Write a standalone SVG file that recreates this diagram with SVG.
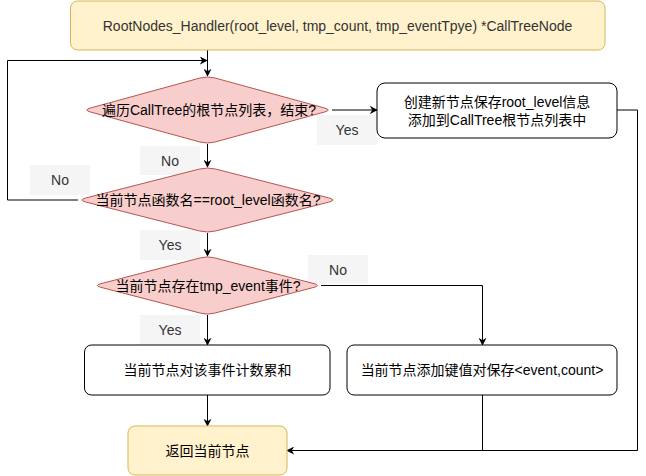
<svg xmlns="http://www.w3.org/2000/svg" width="646" height="476" viewBox="0 0 646 476">
<style>
text{font-family:"Liberation Sans","Noto Sans CJK SC",Arial,sans-serif;font-size:14px;text-anchor:middle;dominant-baseline:central;fill:#000}
.term{fill:#fff2cc;stroke:#d6b656;stroke-width:1}
.proc{fill:#ffffff;stroke:#000000;stroke-width:1}
.dec{fill:#f8cecc;stroke:#b85450;stroke-width:1}
.lbl rect{fill:#f5f5f5;stroke:none}
.lbl text{fill:#333333}
.edge{fill:none;stroke:#000000;stroke-width:1}
.ttl{fill:#333333}
</style>
<defs>
<marker id="arr" viewBox="0 0 10 10" refX="9" refY="5" markerWidth="8" markerHeight="8" markerUnits="userSpaceOnUse" orient="auto">
<path d="M0,0 L10,5 L0,10 L3,5 Z" fill="#000000" stroke="none"/>
</marker>
</defs>
<g id="connectors">
<path class="edge" d="M207.5,50 L207.5,76" marker-end="url(#arr)"/>
<path class="edge" d="M78,200 L7.5,200 L7.5,60.5 L207,60.5" marker-end="url(#arr)"/>
<path class="edge" d="M332,110 L377,110" marker-end="url(#arr)"/>
<path class="edge" d="M617,110 L637.5,110 L637.5,450.5 L287,450.5" marker-end="url(#arr)"/>
<path class="edge" d="M207.5,144 L207.5,167" marker-end="url(#arr)"/>
<path class="edge" d="M207.5,233 L207.5,256" marker-end="url(#arr)"/>
<path class="edge" d="M321,285.5 L482.5,285.5 L482.5,345" marker-end="url(#arr)"/>
<path class="edge" d="M207.5,315 L207.5,345" marker-end="url(#arr)"/>
<path class="edge" d="M207.5,395 L207.5,426" marker-end="url(#arr)"/>
<path class="edge" d="M482.5,395 L482.5,450.5"/>
</g>
<g id="labels" class="lbl">
<g id="lbl-yes1"><rect x="317" y="115" width="60" height="30"/><text x="347" y="130">Yes</text></g>
<g id="lbl-no1"><rect x="140" y="146" width="60" height="29"/><text x="170" y="160.5">No</text></g>
<g id="lbl-no2"><rect x="30" y="165" width="60" height="30"/><text x="60" y="180">No</text></g>
<g id="lbl-yes2"><rect x="140" y="230" width="60" height="30"/><text x="170" y="245">Yes</text></g>
<g id="lbl-no3"><rect x="308" y="255" width="60" height="29"/><text x="338" y="270">No</text></g>
<g id="lbl-yes3"><rect x="140" y="315" width="60" height="30"/><text x="170" y="330">Yes</text></g>
</g>
<g id="start">
<rect class="term" x="70.5" y="1" width="534.5" height="49" rx="7"/>
<text class="ttl" x="337.5" y="25.5">RootNodes_Handler(root_level, tmp_count, tmp_eventTpye) *CallTreeNode</text>
</g>
<g id="dec1">
<path class="dec" d="M90.5,108 L200,78 Q207.5,76 215,78 L324.5,108 Q332,110 324.5,112 L215,142 Q207.5,144 200,142 L90.5,112 Q83,110 90.5,108 Z"/>
<text x="209" y="110">遍历CallTree的根节点列表，结束?</text>
</g>
<g id="newnode">
<rect class="proc" x="377" y="83" width="240" height="55" rx="8"/>
<text x="497" y="101.5">创建新节点保存root_level信息</text>
<text x="497" y="119.5">添加到CallTree根节点列表中</text>
</g>
<g id="dec2">
<path class="dec" d="M85.8,198 L199.7,169 Q207.5,167 215.3,169 L329.2,198 Q337,200 329.2,202 L215.3,231 Q207.5,233 199.7,231 L85.8,202 Q78,200 85.8,198 Z"/>
<text x="208" y="200">当前节点函数名==root_level函数名?</text>
</g>
<g id="dec3">
<path class="dec" d="M100.8,283.7 L200.7,257.8 Q207.5,256 214.3,257.8 L314.2,283.7 Q321,285.5 314.2,287.3 L214.3,313.2 Q207.5,315 200.7,313.2 L100.8,287.3 Q94,285.5 100.8,283.7 Z"/>
<text x="208" y="285.5">当前节点存在tmp_event事件?</text>
</g>
<g id="accum">
<rect class="proc" x="84.5" y="345" width="245.5" height="50" rx="7"/>
<text x="207.5" y="370">当前节点对该事件计数累和</text>
</g>
<g id="addkv">
<rect class="proc" x="347" y="345" width="270" height="50" rx="7"/>
<text x="482" y="370">当前节点添加键值对保存&lt;event,count&gt;</text>
</g>
<g id="ret">
<rect class="term" x="128" y="426" width="159" height="49" rx="7"/>
<text x="207.5" y="450.5">返回当前节点</text>
</g>
</svg>
